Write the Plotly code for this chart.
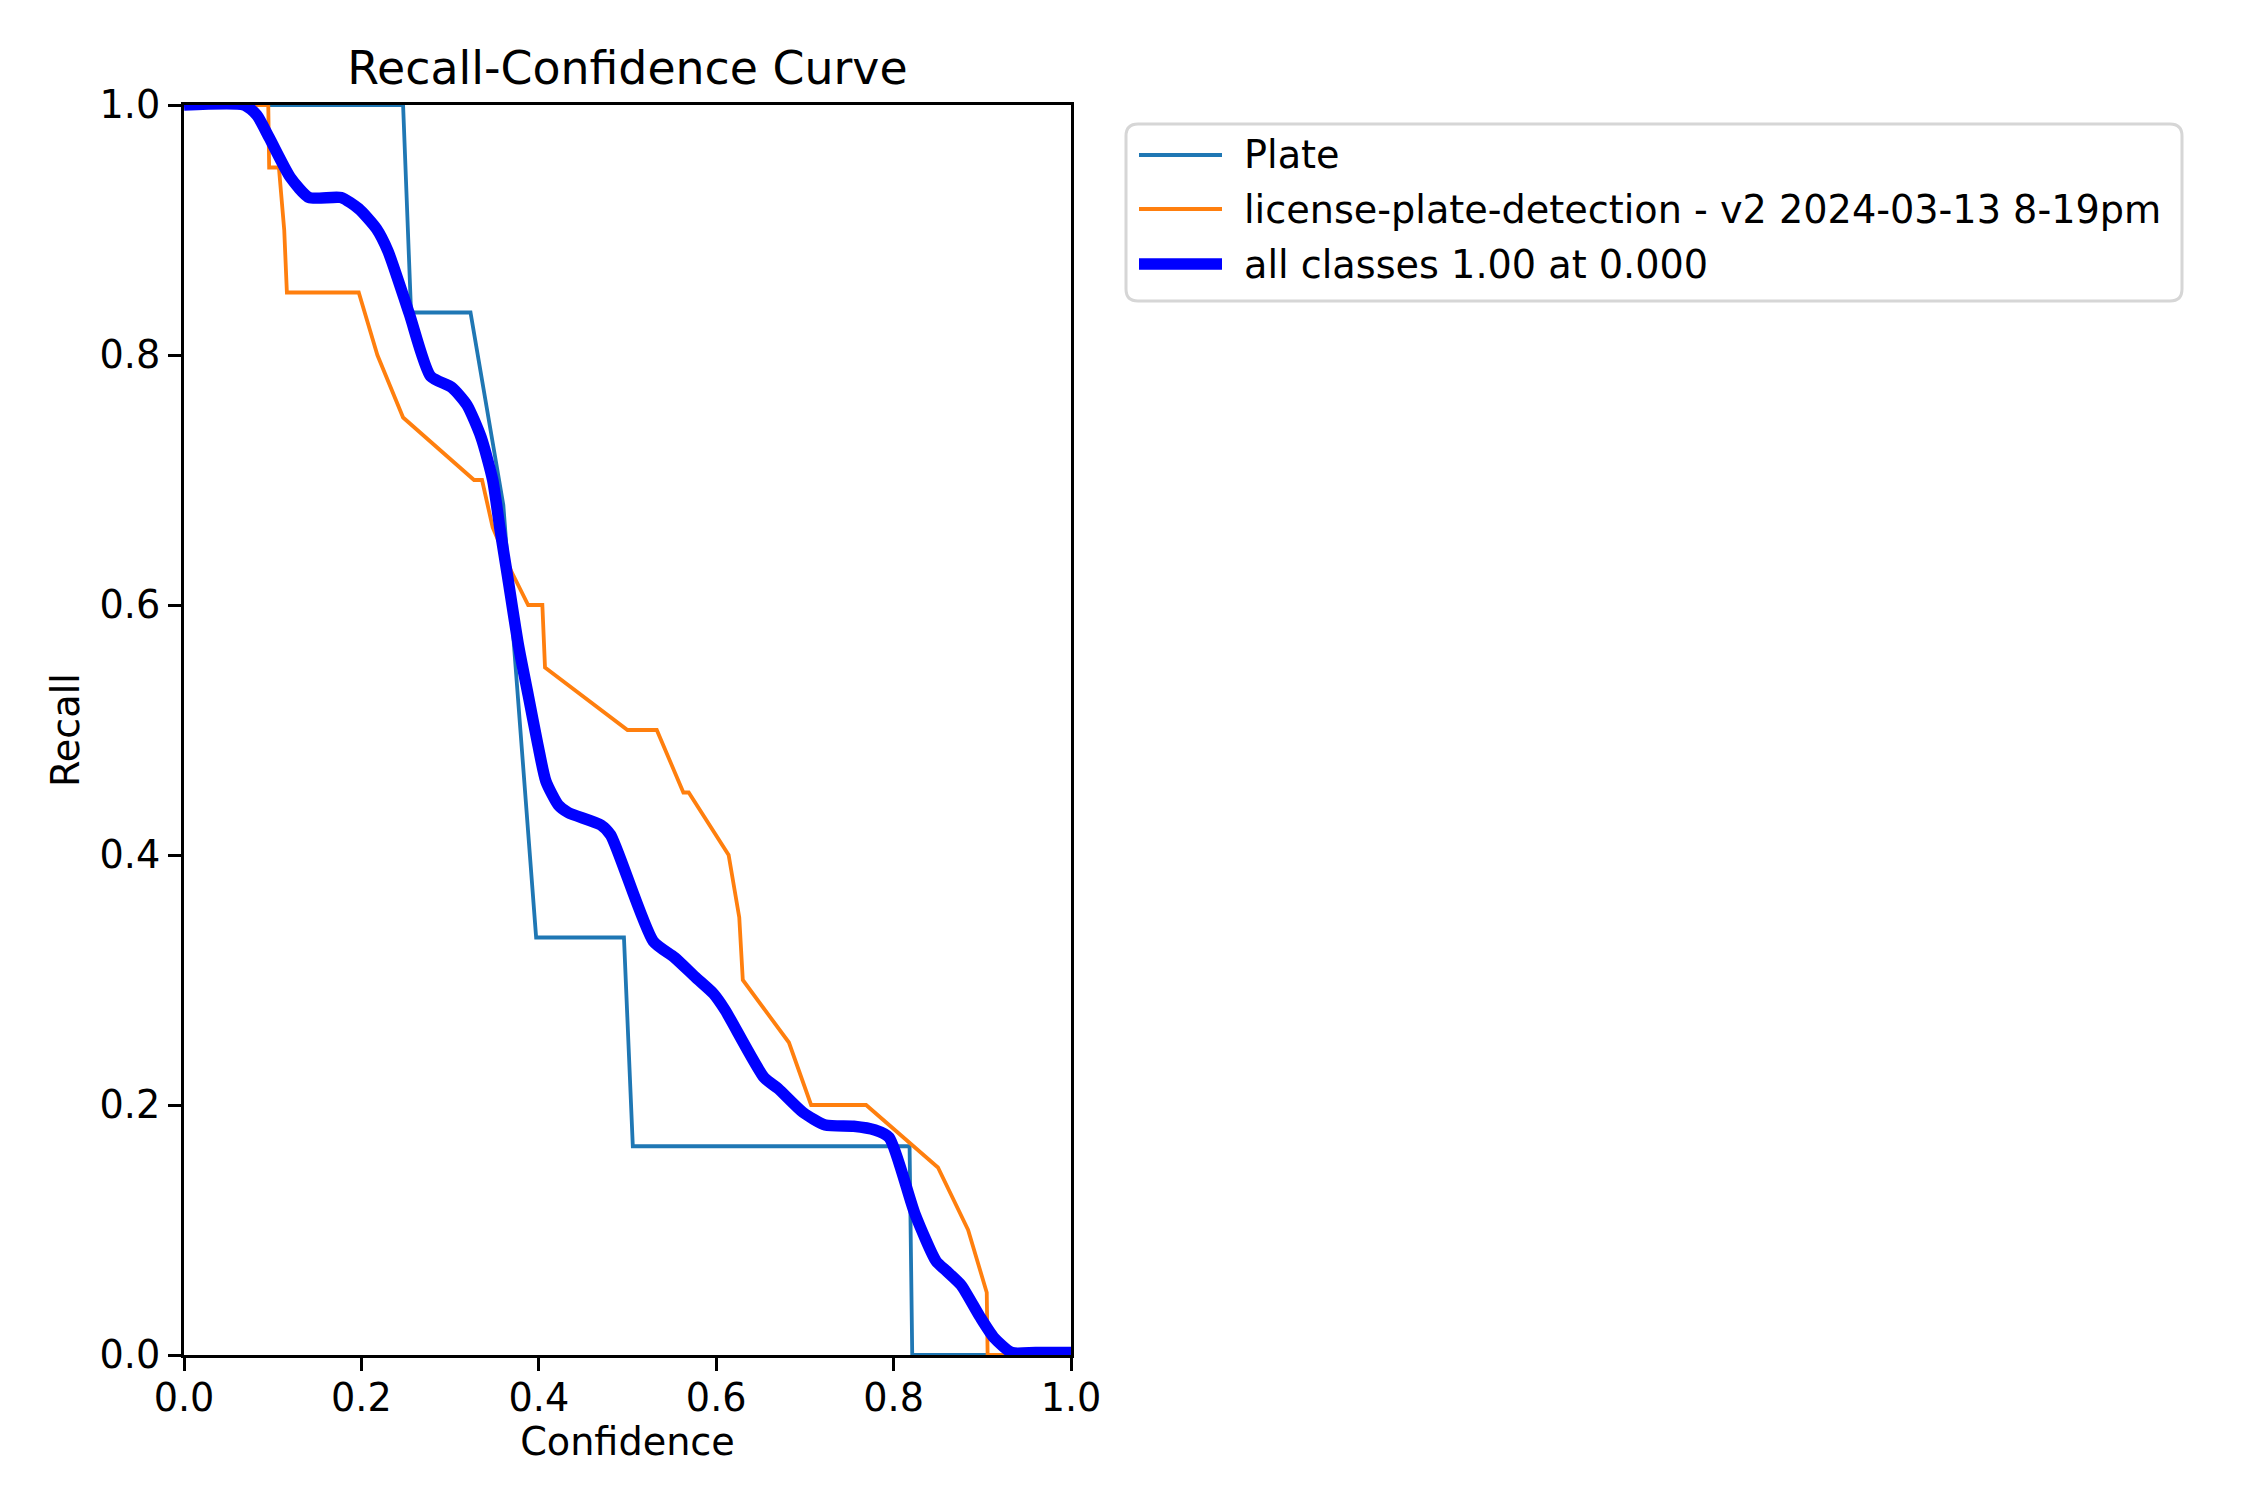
import plotly.graph_objects as go

# values
plate_conf = [0.0, 0.247, 0.256, 0.323, 0.36, 0.397, 0.496, 0.506, 0.818, 0.821, 1.0]
plate_recall = [1.0, 1.0, 0.834, 0.834, 0.68, 0.334, 0.334, 0.167, 0.167, 0.0, 0.0]

lpd_conf = [0.0, 0.095, 0.096, 0.107, 0.113, 0.116, 0.197, 0.218, 0.247, 0.327, 0.336,
            0.348, 0.369, 0.388, 0.404, 0.407, 0.500, 0.533, 0.563, 0.569, 0.614, 0.626, 0.630,
            0.682, 0.707, 0.769, 0.850, 0.884, 0.905, 0.906, 1.0]
lpd_recall = [1.0, 1.0, 0.95, 0.95, 0.9, 0.85, 0.85, 0.8, 0.75, 0.70, 0.70,
              0.662, 0.627, 0.60, 0.60, 0.55, 0.50, 0.50, 0.45, 0.45, 0.40, 0.35, 0.30,
              0.25, 0.20, 0.20, 0.15, 0.10, 0.05, 0.0, 0.0]

all_conf = [0.0, 0.068, 0.082, 0.096, 0.120, 0.141, 0.177, 0.197, 0.217, 0.230, 0.254,
            0.278, 0.302, 0.319, 0.335, 0.348, 0.356, 0.365, 0.377, 0.388, 0.399, 0.408,
            0.422, 0.433, 0.470, 0.481, 0.529, 0.553, 0.577, 0.597, 0.610, 0.654, 0.670,
            0.698, 0.723, 0.755, 0.779, 0.795, 0.824, 0.848, 0.860, 0.876, 0.897, 0.913,
            0.933, 0.96, 1.0]
all_recall = [1.0, 1.0, 0.992, 0.974, 0.942, 0.926, 0.926, 0.917, 0.901, 0.883, 0.833,
              0.783, 0.774, 0.760, 0.734, 0.700, 0.662, 0.622, 0.568, 0.528, 0.488, 0.459,
              0.440, 0.434, 0.424, 0.416, 0.331, 0.318, 0.302, 0.289, 0.276, 0.222, 0.213,
              0.194, 0.184, 0.183, 0.180, 0.174, 0.113, 0.075, 0.067, 0.056, 0.031, 0.014,
              0.002, 0.002, 0.002]

tick_vals = [0.0, 0.2, 0.4, 0.6, 0.8, 1.0]

FONT = "DejaVu Sans"
fs = 38.2

# plot area in pixels
L, R, T, B = 176, 1063, 97, 1347
W, H = 2250, 1500
pw, ph = R - L, B - T


def px_x(v):
    return (v - L) / pw


def px_y(v):
    return (B - v) / ph


traces = [
    ("Plate", plate_conf, plate_recall, "#1f77b4", 3.8, "linear"),
    ("license-plate-detection - v2 2024-03-13 8-19pm", lpd_conf, lpd_recall, "#ff7f0e", 3.8, "linear"),
    ("all classes 1.00 at 0.000", all_conf, all_recall, "#0000ff", 11.5, "spline"),
]

fig = go.Figure()
for i, (name, xs, ys, col, lw, shp) in enumerate(traces):
    line = dict(color=col, width=lw, shape=shp)
    if shp == "spline":
        line["smoothing"] = 0.6
    fig.add_trace(go.Scatter(x=xs, y=ys, mode="lines", name=name, line=line, showlegend=False))
    # legend entry only (text); the handle is drawn below as a longer line
    fig.add_trace(go.Scatter(x=[None], y=[None], mode="lines", name=name,
                             line=dict(color="rgba(0,0,0,0)", width=1), legendgroup=str(i)))

axis_style = dict(range=[0, 1], tickvals=tick_vals, tickformat=".1f", showgrid=False,
                  zeroline=False, showline=True, linecolor="black", linewidth=3.1, mirror=True,
                  ticks="outside", ticklen=13, tickwidth=3.1, tickcolor="black",
                  tickfont=dict(family=FONT, size=fs, color="black"))

fig.update_xaxes(**axis_style, ticklabelstandoff=-6,
                 title=dict(text="Confidence", font=dict(family=FONT, size=fs, color="black"), standoff=10))
fig.update_yaxes(**axis_style,
                 title=dict(text="Recall", font=dict(family=FONT, size=fs, color="black"), standoff=9))

# legend frame (rounded box like matplotlib)
bx0, bx1, by0, by1 = px_x(1118), px_x(2174), px_y(293), px_y(116)
rx, ry = 12 / pw, 12 / ph
path = (f"M {bx0 + rx},{by1} L {bx1 - rx},{by1} Q {bx1},{by1} {bx1},{by1 - ry} "
        f"L {bx1},{by0 + ry} Q {bx1},{by0} {bx1 - rx},{by0} "
        f"L {bx0 + rx},{by0} Q {bx0},{by0} {bx0},{by0 + ry} "
        f"L {bx0},{by1 - ry} Q {bx0},{by1} {bx0 + rx},{by1} Z")
fig.add_shape(type="path", path=path, xref="paper", yref="paper",
              line=dict(color="#d6d6d6", width=3), fillcolor="white", layer="below")

# legend handles, matplotlib style
row_y = [147, 201, 256]
for (name, xs, ys, col, lw, shp), yy in zip(traces, row_y):
    fig.add_shape(type="line", xref="paper", yref="paper",
                  x0=px_x(1131), x1=px_x(1214), y0=px_y(yy), y1=px_y(yy),
                  line=dict(color=col, width=lw))

fig.update_layout(
    width=W, height=H,
    margin=dict(l=L, r=W - R, t=T, b=H - B),
    paper_bgcolor="white", plot_bgcolor="white",
    font=dict(family=FONT, size=fs, color="black"),
    title=dict(text="Recall-Confidence Curve", x=(L + R) / 2 / W, xanchor="center",
               y=1 - 60 / H, yanchor="middle", font=dict(family=FONT, size=45.8, color="black")),
    showlegend=True,
    legend=dict(x=px_x(1196), y=px_y(114), xanchor="left", yanchor="top",
                bgcolor="rgba(0,0,0,0)", borderwidth=0, tracegroupgap=2,
                font=dict(family=FONT, size=fs, color="black")),
)

fig.write_html("out.html")
